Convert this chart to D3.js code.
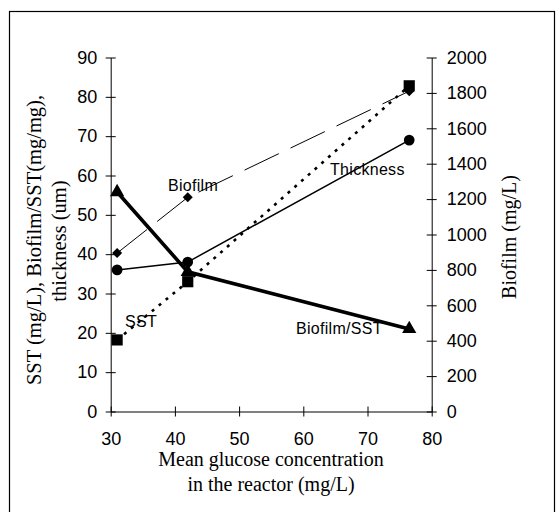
<!DOCTYPE html>
<html>
<head>
<meta charset="utf-8">
<script src="https://cdn.jsdelivr.net/npm/d3@7"></script>
<style>
  body { margin: 0; background: #fff; }
  svg text { fill: #000; }
</style>
</head>
<body>
<svg id="chart" width="559" height="512"></svg>
<script>
// data
const glucose = [31, 42, 76.5];            // mean glucose concentration (mg/L)
const thickness = [36, 38, 69];            // um, left axis
const sst = [18.2, 33, 82.8];              // mg/L, left axis
const biofilmPerSst = [55.8, 35.5, 21];    // mg/mg, left axis
const biofilm = [895, 1210, 1810];         // mg/L, right axis

const xTicks = [30, 40, 50, 60, 70, 80];
const leftTicks = [0, 10, 20, 30, 40, 50, 60, 70, 80, 90];
const rightTicks = [0, 200, 400, 600, 800, 1000, 1200, 1400, 1600, 1800, 2000];

const svg = d3.select('svg#chart');

// outer frame
svg.append('rect')
    .attr('x', 9.5).attr('y', 11.5)
    .attr('width', 545).attr('height', 520)
    .attr('fill', 'none').attr('stroke', '#000').attr('stroke-width', 1.2);

const x = d3.scaleLinear().domain([30, 80]).range([110.7, 431.7]);
const yL = d3.scaleLinear().domain([0, 90]).range([411.5, 57.5]);
const yR = d3.scaleLinear().domain([0, 2000]).range([411.5, 57.5]);

const tickFont = 'Liberation Sans, Arial, sans-serif';
const serif = 'Liberation Serif, Times New Roman, serif';
const fmt = d3.format('d');

// axes
const gx = svg.append('g').attr('transform', `translate(0,${yL(0)})`)
    .call(d3.axisBottom(x).tickValues(xTicks).tickFormat(fmt).tickSize(5).tickSizeOuter(0).tickPadding(16));
gx.selectAll('.tick line').attr('y1', -5);

const gl = svg.append('g').attr('transform', `translate(${x(30)},0)`)
    .call(d3.axisLeft(yL).tickValues(leftTicks).tickFormat(fmt).tickSize(5).tickSizeOuter(0).tickPadding(8.4));
gl.selectAll('.tick line').attr('x1', 5);

const gr = svg.append('g').attr('transform', `translate(${x(80)},0)`)
    .call(d3.axisRight(yR).tickValues(rightTicks).tickFormat(fmt).tickSize(5).tickSizeOuter(0).tickPadding(10));
gr.selectAll('.tick line').attr('x1', -5);

svg.selectAll('.domain, .tick line').attr('stroke', '#000').attr('stroke-width', 1);
svg.selectAll('g').attr('font-size', null).attr('font-family', null);
svg.selectAll('.tick text')
    .attr('font-family', tickFont)
    .attr('font-size', 18)
    .attr('fill', '#000');

// axis titles
svg.append('text')
    .attr('x', 271).attr('y', 466)
    .attr('text-anchor', 'middle')
    .attr('font-family', serif).attr('font-size', 20)
    .text('Mean glucose concentration');
svg.append('text')
    .attr('x', 271).attr('y', 491)
    .attr('text-anchor', 'middle')
    .attr('font-family', serif).attr('font-size', 20)
    .text('in the reactor (mg/L)');

svg.append('text')
    .attr('transform', 'translate(41,240) rotate(-90)')
    .attr('text-anchor', 'middle')
    .attr('font-family', serif).attr('font-size', 20.5)
    .text('SST (mg/L), Biofilm/SST(mg/mg),');
svg.append('text')
    .attr('transform', 'translate(66,241) rotate(-90)')
    .attr('text-anchor', 'middle')
    .attr('font-family', serif).attr('font-size', 20.5)
    .text('thickness (um)');

svg.append('text')
    .attr('transform', 'translate(516,237) rotate(-90)')
    .attr('text-anchor', 'middle')
    .attr('font-family', serif).attr('font-size', 20)
    .text('Biofilm (mg/L)');

// lines
function drawLine(vals, yScale, width, dash) {
    const line = d3.line()
        .x((d, i) => x(glucose[i]))
        .y(d => yScale(d));
    svg.append('path')
        .datum(vals)
        .attr('d', line)
        .attr('fill', 'none')
        .attr('stroke', '#000')
        .attr('stroke-width', width)
        .attr('stroke-dasharray', dash)
        .attr('stroke-linecap', 'butt');
}

drawLine(biofilm, yR, 1, '38,13');
drawLine(sst, yL, 2.6, '3,6');
drawLine(thickness, yL, 1.5, null);
drawLine(biofilmPerSst, yL, 3.6, null);

// markers
function drawMarkers(vals, yScale, type, size, rot) {
    svg.append('g').selectAll('path')
        .data(vals)
        .join('path')
        .attr('d', d3.symbol().type(type).size(size))
        .attr('transform', (d, i) => `translate(${x(glucose[i])},${yScale(d)}) rotate(${rot})`)
        .attr('fill', '#000');
}

drawMarkers(biofilm, yR, d3.symbolSquare, 50, 45);
drawMarkers(sst, yL, d3.symbolSquare, 125, 0);
drawMarkers(biofilmPerSst, yL, d3.symbolTriangle, 88, 0);
drawMarkers(thickness, yL, d3.symbolCircle, 90, 0);

// series labels
const labels = [
    { t: 'Biofilm', x: 168, y: 190.5 },
    { t: 'Thickness', x: 330, y: 175 },
    { t: 'Biofilm/SST', x: 296, y: 334 },
    { t: 'SST', x: 125, y: 327 }
];
svg.append('g').selectAll('text')
    .data(labels)
    .join('text')
    .attr('x', d => d.x)
    .attr('y', d => d.y)
    .attr('font-family', tickFont)
    .attr('font-size', 16)
    .attr('letter-spacing', 0.3)
    .text(d => d.t);
</script>
</body>
</html>
